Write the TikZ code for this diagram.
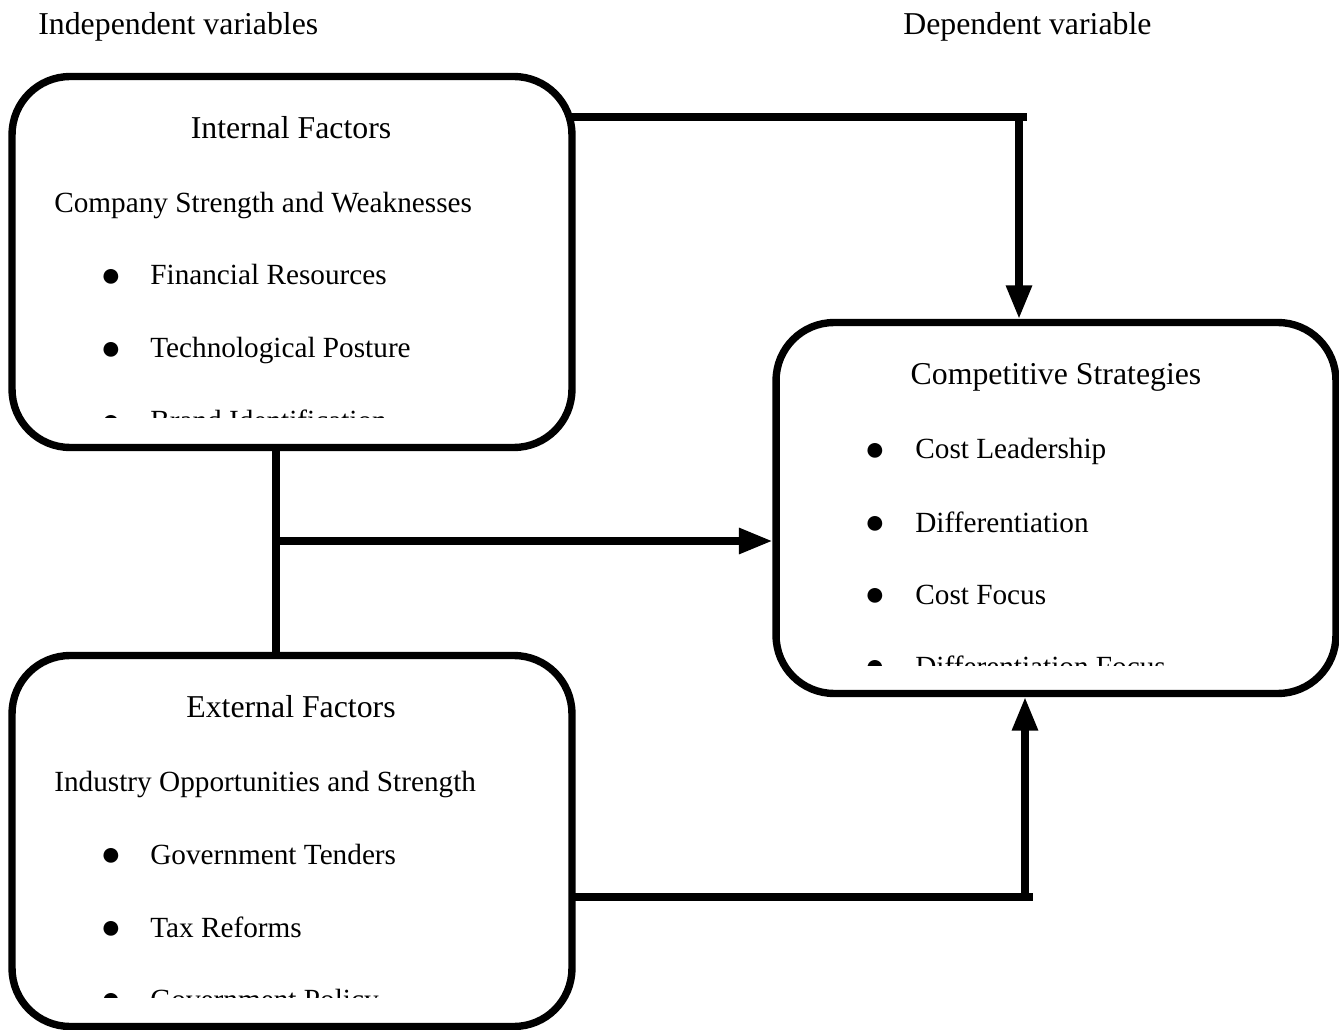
\documentclass[tikz,border=0pt]{standalone}
\usepackage{fontspec}
\setmainfont{Liberation Serif}
\usetikzlibrary{positioning,arrows.meta,backgrounds}

\begin{document}
\begin{tikzpicture}[x=0.02cm,y=-0.02cm,>={Triangle[width=14pt,length=19pt]},
  factor/.style={draw,line width=4.2pt,rounded corners=33pt,fill=white,
    minimum width=11.2cm,minimum height=7.42cm,inner sep=0pt},
  link/.style={line width=4pt},
  head/.style={font=\fontsize{18.1}{22}\selectfont,inner sep=0pt},
  entry/.style={font=\fontsize{16.65}{20}\selectfont,inner sep=0pt,anchor=base west},
  bul/.style={font=\fontsize{19.5}{22}\selectfont,inner sep=0pt}]
  \useasboundingbox (0,0) rectangle (1339,1030);

  % column titles
  \node[head,anchor=base west] (indep) at (38,35) {Independent variables};
  \node[head,anchor=base west] (dep) at (903,35) {Dependent variable};

  % the three boxes
  \node[factor] (intl) at (292,262) {};
  \node[factor] (comp) at (1056,508) {};
  \node[factor] (extl) at (292,841) {};

  % internal factors
  \node[head,anchor=base] (intlT) at (291,139) {Internal Factors};
  \node[entry] (intlS) at (54,213) {Company Strength and Weaknesses};
  \node[bul] (finB) at (111,278) {●};
  \node[entry] (fin) at (150,285) {Financial Resources};
  \node[bul] (techB) at (111,351) {●};
  \node[entry] (tech) at (150,358) {Technological Posture};
  \begin{scope}
    \clip (12,300) rectangle (572,418);
    \node[bul] (brandB) at (111,424) {●};
    \node[entry] (brand) at (150,431) {Brand Identification};
  \end{scope}

  % competitive strategies
  \node[head,anchor=base] (compT) at (1056,385) {Competitive Strategies};
  \node[bul] (costB) at (875,452) {●};
  \node[entry] (cost) at (915,459) {Cost Leadership};
  \node[bul] (diffB) at (875,525) {●};
  \node[entry] (diff) at (915,532) {Differentiation};
  \node[bul] (focB) at (875,597) {●};
  \node[entry] (foc) at (915,604) {Cost Focus};
  \begin{scope}
    \clip (778,560) rectangle (1334,665);
    \node[bul] (dfocB) at (875,669) {●};
    \node[entry] (dfoc) at (915,676) {Differentiation Focus};
  \end{scope}

  % external factors
  \node[head,anchor=base] (extlT) at (291,717) {External Factors};
  \node[entry] (extlS) at (54,791) {Industry Opportunities and Strength};
  \node[bul] (govB) at (111,857) {●};
  \node[entry] (gov) at (150,864) {Government Tenders};
  \node[bul] (taxB) at (111,930) {●};
  \node[entry] (tax) at (150,937) {Tax Reforms};
  \begin{scope}
    \clip (12,900) rectangle (572,997);
    \node[bul] (polB) at (111,1002) {●};
    \node[entry] (pol) at (150,1009) {Government Policy};
  \end{scope}

  % connectors
  \begin{scope}[on background layer]
    \coordinate (topC) at (1027,117);
    \coordinate (topK) at (1019,117);
    \coordinate (midC) at (276,541);
    \coordinate (botC) at (1033,897);
    \coordinate (botK) at (1025,897);
    \draw[link] (intl.center |- topC) -- (topC);
    \draw[link,->] (topK) -- (topK |- comp.north);
    \draw[link] (intl.south -| midC) -- (extl.north -| midC);
    \draw[link,->] (midC) -- (midC -| comp.west);
    \draw[link] (extl.center |- botC) -- (botC);
    \draw[link,->] (botK) -- (botK |- comp.south);
  \end{scope}
\end{tikzpicture}
\end{document}
